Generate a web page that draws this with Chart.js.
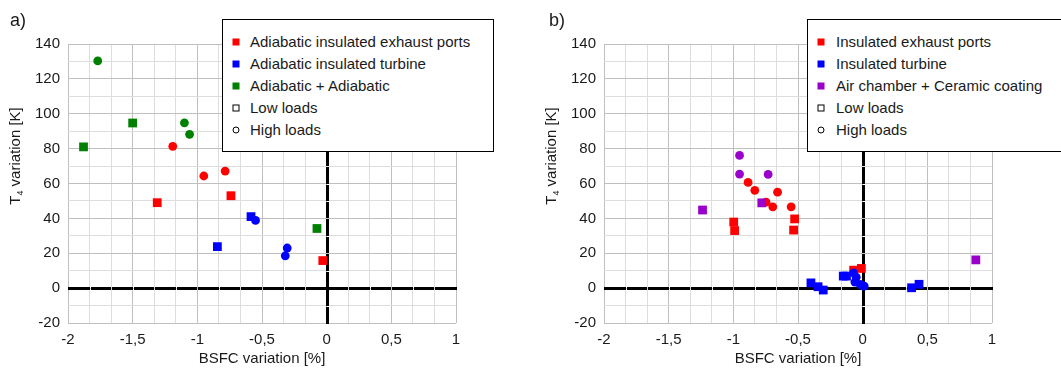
<!DOCTYPE html>
<html><head><meta charset="utf-8">
<script src="https://cdn.jsdelivr.net/npm/chart.js@4/dist/chart.umd.min.js"></script>
<style>
body{margin:0;background:#fff;}
#wrap{position:relative;width:1061px;height:372px;overflow:hidden;background:#fff;font-family:"Liberation Sans",Arial,sans-serif;color:#1a1a1a;}
canvas{position:absolute;top:0;}
.plabel{position:absolute;top:11px;font-size:18px;line-height:18px;}
.ytitle{position:absolute;width:200px;height:18px;line-height:18px;font-size:15px;text-align:center;transform:rotate(-90deg);white-space:nowrap;}
.ytitle sub{font-size:9px;vertical-align:-3px;line-height:0;}
.legend{position:absolute;top:19px;height:133px;border:1px solid #000;background:#fff;box-sizing:border-box;font-size:15px;padding-top:11px;}
.row{position:relative;height:22px;line-height:22px;white-space:nowrap;}
.mk{position:absolute;top:50%;transform:translate(-50%,-50%);box-sizing:border-box;}
.txt{position:absolute;top:0;}
</style>
</head><body>
<div id="wrap">
  <canvas id="ca" width="530" height="372" style="left:0;width:530px;height:372px"></canvas>
  <canvas id="cb" width="531" height="372" style="left:530px;width:531px;height:372px"></canvas>
  <div class="plabel" style="left:10px">a)</div>
  <div class="plabel" style="left:549px">b)</div>
  <div class="ytitle" style="left:-85px;top:147px">T<sub>4</sub> variation [K]</div>
  <div class="ytitle" style="left:451px;top:147px">T<sub>4</sub> variation [K]</div>
  <div class="legend" id="lega" style="left:222px;width:272px"></div>
  <div class="legend" id="legb" style="left:807px;width:262px"></div>
</div>
<script>
// ---- axis ticks ----
const xMajor = [-2, -1.5, -1, -0.5, 0, 0.5, 1];
const xTickLabels = ['-2', '-1,5', '-1', '-0,5', '0', '0,5', '1'];
const yMajor = [-20, 0, 20, 40, 60, 80, 100, 120, 140];
const yTickLabels = ['-20', '0', '20', '40', '60', '80', '100', '120', '140'];
const xTitle = 'BSFC variation [%]';

// ---- panel a data [BSFC %, T4 K] ----
const aSeriesNames = ['Adiabatic insulated exhaust ports', 'Adiabatic insulated turbine', 'Adiabatic + Adiabatic'];
const aExhaustLow  = [[-1.31, 49], [-0.74, 53], [-0.03, 15.8]];
const aExhaustHigh = [[-1.19, 81.3], [-0.95, 64.3], [-0.785, 67.1]];
const aTurbineLow  = [[-0.845, 23.8], [-0.585, 41]];
const aTurbineHigh = [[-0.55, 38.8], [-0.305, 23], [-0.32, 18.5]];
const aBothLow     = [[-1.5, 94.7], [-1.88, 81], [-0.075, 34.2]];
const aBothHigh    = [[-1.77, 130.3], [-1.10, 94.8], [-1.06, 88.2]];

// ---- panel b data ----
const bSeriesNames = ['Insulated exhaust ports', 'Insulated turbine', 'Air chamber + Ceramic coating'];
const bExhaustLow  = [[-0.997, 37.9], [-0.99, 33], [-0.526, 39.7], [-0.534, 33.3], [-0.07, 10.3], [-0.01, 11.3]];
const bExhaustHigh = [[-0.886, 60.6], [-0.834, 56.1], [-0.658, 55], [-0.747, 49.3], [-0.695, 46.6], [-0.553, 46.6]];
const bTurbineLow  = [[-0.40, 3], [-0.345, 0.8], [-0.305, -1.1], [-0.15, 6.9], [-0.125, 6.9], [0.378, 0.2], [0.436, 2.2]];
const bTurbineHigh = [[-0.07, 8.7], [-0.05, 6.3], [-0.06, 3.5], [-0.02, 2.2], [0.0, 1.3], [0.012, 1.2]];
const bCeramicLow  = [[-1.238, 44.8], [-0.78, 48.9], [0.875, 16.2]];
const bCeramicHigh = [[-0.952, 76.1], [-0.952, 65.4], [-0.731, 65.2]];

const loadNames = ['Low loads', 'High loads'];

// ---- styles ----
const aColors = ['#ff0000', '#0000ff', '#008000'];
const bColors = ['#ff0000', '#0000ff', '#9900cc'];
const FONT = '"Liberation Sans", Arial, sans-serif';
const TXT = '#1a1a1a';
const GRID_MAJOR = '#bfbfbf', GRID_MINOR = '#dddddd';

function buildTicks(majors, subdiv) {
  const out = [];
  majors.forEach((m, i) => {
    out.push({value: m});
    if (i < majors.length - 1) {
      const step = (majors[i + 1] - m) / subdiv;
      for (let k = 1; k < subdiv; k++) out.push({value: m + k * step});
    }
  });
  return out;
}
function majorIndex(majors, v) { return majors.findIndex(m => Math.abs(m - v) < 1e-9); }

const zeroLines = {
  id: 'zeroLines',
  beforeDatasetsDraw(chart) {
    const {ctx, scales: {x, y}} = chart;
    const x0 = Math.round(x.getPixelForValue(0)) + 0.5;
    const y0 = Math.round(y.getPixelForValue(0)) + 0.5;
    ctx.save();
    ctx.strokeStyle = '#000';
    ctx.lineWidth = 3;
    ctx.lineCap = 'butt';
    const xs = x.ticks.map(t => Math.round(x.getPixelForValue(t.value)));
    for (let i = 0; i < xs.length - 1; i++) {
      const s = (i === 0 || Math.abs(xs[i] + 0.5 - x0) < 1) ? xs[i] : xs[i] + 1;
      const e = (i === xs.length - 2 || Math.abs(xs[i + 1] + 0.5 - x0) < 1) ? xs[i + 1] + 1 : xs[i + 1];
      ctx.beginPath(); ctx.moveTo(s, y0); ctx.lineTo(e, y0); ctx.stroke();
    }
    const ys = y.ticks.map(t => Math.round(y.getPixelForValue(t.value))).sort((a, b) => a - b);
    for (let i = 0; i < ys.length - 1; i++) {
      const s = (i === 0 || Math.abs(ys[i] + 0.5 - y0) < 1) ? ys[i] : ys[i] + 1;
      const e = (i === ys.length - 2 || Math.abs(ys[i + 1] + 0.5 - y0) < 1) ? ys[i + 1] + 1 : ys[i + 1];
      ctx.beginPath(); ctx.moveTo(x0, s); ctx.lineTo(x0, e); ctx.stroke();
    }
    ctx.restore();
  }
};

function makeDatasets(pairs, colors) {
  const ds = [];
  pairs.forEach(([low, high], i) => {
    ds.push({data: low.map(([x, y]) => ({x, y})), pointStyle: 'rect', pointRadius: 6.2, pointHoverRadius: 6.2,
             backgroundColor: colors[i], borderColor: colors[i], borderWidth: 0});
    ds.push({data: high.map(([x, y]) => ({x, y})), pointStyle: 'circle', pointRadius: 4.4, pointHoverRadius: 4.4,
             backgroundColor: colors[i], borderColor: colors[i], borderWidth: 0});
  });
  ds.forEach((d, k) => { d.order = 100 - k; });
  return ds;
}

function makeChart(id, datasets, axisWidth, rightPad) {
  return new Chart(document.getElementById(id), {
    type: 'scatter',
    data: {datasets},
    plugins: [zeroLines],
    options: {
      responsive: false, animation: false, devicePixelRatio: 1,
      layout: {padding: {left: 0, right: rightPad, top: 44, bottom: 0}},
      plugins: {legend: {display: false}, tooltip: {enabled: false}},
      scales: {
        x: {
          type: 'linear', min: -2, max: 1,
          afterBuildTicks: s => { s.ticks = buildTicks(xMajor, 3); },
          afterFit: s => { s.height = 49; },
          border: {display: false},
          grid: {drawTicks: false, lineWidth: 1,
                 color: c => (c.tick && majorIndex(xMajor, c.tick.value) >= 0) ? GRID_MAJOR : GRID_MINOR},
          ticks: {autoSkip: false, maxRotation: 0, padding: 8, color: TXT, font: {family: FONT, size: 15},
                  callback: v => { const i = majorIndex(xMajor, v); return i >= 0 ? xTickLabels[i] : ''; }},
          title: {display: true, text: xTitle, color: TXT, font: {family: FONT, size: 15}, padding: {top: 0, bottom: 4}}
        },
        y: {
          type: 'linear', min: -20, max: 140,
          afterBuildTicks: s => { s.ticks = buildTicks(yMajor, 2); },
          afterFit: s => { s.width = axisWidth; },
          border: {display: false},
          grid: {drawTicks: false, lineWidth: 1,
                 color: c => (c.tick && majorIndex(yMajor, c.tick.value) >= 0) ? GRID_MAJOR : GRID_MINOR},
          ticks: {autoSkip: false, padding: 8, color: TXT, font: {family: FONT, size: 15},
                  callback: v => { const i = majorIndex(yMajor, v); return i >= 0 ? yTickLabels[i] : ''; }}
        }
      }
    }
  });
}

makeChart('ca', makeDatasets([[aExhaustLow, aExhaustHigh], [aTurbineLow, aTurbineHigh], [aBothLow, aBothHigh]], aColors), 68, 74);
makeChart('cb', makeDatasets([[bExhaustLow, bExhaustHigh], [bTurbineLow, bTurbineHigh], [bCeramicLow, bCeramicHigh]], bColors), 74, 69);

function buildLegend(id, names, colors, mkX, txtX) {
  const el = document.getElementById(id);
  names.forEach((n, i) => {
    el.insertAdjacentHTML('beforeend',
      `<div class="row"><span class="mk" style="left:${mkX}px;width:7px;height:7px;background:${colors[i]}"></span><span class="txt" style="left:${txtX}px">${n}</span></div>`);
  });
  el.insertAdjacentHTML('beforeend',
    `<div class="row"><span class="mk" style="left:${mkX}px;width:7px;height:7px;border:1px solid #000"></span><span class="txt" style="left:${txtX}px">${loadNames[0]}</span></div>`);
  el.insertAdjacentHTML('beforeend',
    `<div class="row"><span class="mk" style="left:${mkX}px;width:7px;height:7px;border:1px solid #000;border-radius:50%"></span><span class="txt" style="left:${txtX}px">${loadNames[1]}</span></div>`);
}
buildLegend('lega', aSeriesNames, aColors, 13, 27);
buildLegend('legb', bSeriesNames, bColors, 13, 28);
</script>
</body></html>
